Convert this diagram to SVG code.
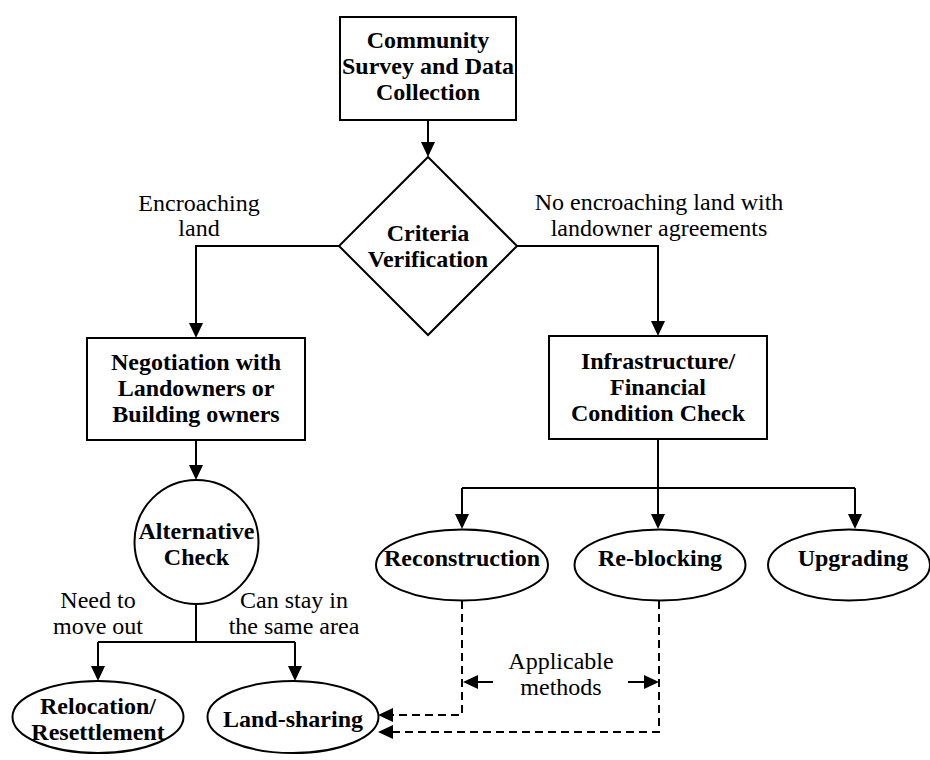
<svg xmlns="http://www.w3.org/2000/svg" width="930" height="760" viewBox="0 0 930 760">
  <style>
    .shape { fill: #ffffff; stroke: #000000; stroke-width: 2; }
    .node-text { font-family: "Liberation Serif", "Times New Roman", serif; font-size: 24px; font-weight: bold; fill: #000000; text-anchor: middle; }
    .label { font-family: "Liberation Serif", "Times New Roman", serif; font-size: 24px; fill: #000000; text-anchor: middle; }
    .link { fill: none; stroke: #000000; stroke-width: 2; }
    .dashed { stroke-dasharray: 8 5; }
  </style>
  <defs>
    <marker id="arrow" viewBox="0 0 15 16" refX="13" refY="8" markerWidth="15" markerHeight="16" markerUnits="userSpaceOnUse" orient="auto">
      <path d="M0,1 L15,8 L0,15 z" fill="#000000"/>
    </marker>
  </defs>

  <rect width="930" height="760" fill="#ffffff"/>

  <!-- connectors -->
  <g id="connectors">
    <path class="link" d="M428,120 V155" marker-end="url(#arrow)"/>
    <path class="link" d="M339,246 H196 V336" marker-end="url(#arrow)"/>
    <path class="link" d="M517,246 H658 V334" marker-end="url(#arrow)"/>
    <path class="link" d="M196,440 V478" marker-end="url(#arrow)"/>
    <path class="link" d="M196,604 V642"/>
    <path class="link" d="M98,642 H295"/>
    <path class="link" d="M98,642 V679" marker-end="url(#arrow)"/>
    <path class="link" d="M295,642 V679" marker-end="url(#arrow)"/>
    <path class="link" d="M658,439 V527" marker-end="url(#arrow)"/>
    <path class="link" d="M462,488 H855"/>
    <path class="link" d="M462,488 V527" marker-end="url(#arrow)"/>
    <path class="link" d="M855,488 V527" marker-end="url(#arrow)"/>
    <path class="link dashed" d="M462,601 V715 H380" marker-end="url(#arrow)"/>
    <path class="link dashed" d="M659,601 V732 H380" marker-end="url(#arrow)"/>
    <path class="link" d="M493,682 H465" marker-end="url(#arrow)"/>
    <path class="link" d="M628,682 H657" marker-end="url(#arrow)"/>
    <text class="label" x="199" y="211">Encroaching</text>
    <text class="label" x="199" y="236">land</text>
    <text class="label" x="659" y="210">No encroaching land with</text>
    <text class="label" x="659" y="236">landowner agreements</text>
    <text class="label" x="98" y="608">Need to</text>
    <text class="label" x="98" y="634">move out</text>
    <text class="label" x="294" y="608">Can stay in</text>
    <text class="label" x="294" y="634">the same area</text>
    <text class="label" x="561" y="669">Applicable</text>
    <text class="label" x="561" y="695">methods</text>
  </g>

  <!-- nodes -->
  <g id="survey">
    <rect class="shape" x="340" y="17" width="176" height="103"/>
    <text class="node-text" x="428" y="48">Community</text>
    <text class="node-text" x="428" y="74">Survey and Data</text>
    <text class="node-text" x="428" y="100">Collection</text>
  </g>

  <g id="criteria">
    <polygon class="shape" points="428,157 517,246 428,335 339,246"/>
    <text class="node-text" x="428" y="241">Criteria</text>
    <text class="node-text" x="428" y="267">Verification</text>
  </g>

  <g id="negotiation">
    <rect class="shape" x="87" y="338" width="218" height="102"/>
    <text class="node-text" x="196" y="370">Negotiation with</text>
    <text class="node-text" x="196" y="396">Landowners or</text>
    <text class="node-text" x="196" y="422">Building owners</text>
  </g>

  <g id="infrastructure">
    <rect class="shape" x="549" y="336" width="218" height="103"/>
    <text class="node-text" x="658" y="369">Infrastructure/</text>
    <text class="node-text" x="658" y="395">Financial</text>
    <text class="node-text" x="658" y="421">Condition Check</text>
  </g>

  <g id="alternative">
    <circle class="shape" cx="196.5" cy="542" r="62"/>
    <text class="node-text" x="196.5" y="539">Alternative</text>
    <text class="node-text" x="196.5" y="565">Check</text>
  </g>

  <g id="reconstruction">
    <ellipse class="shape" cx="462" cy="565" rx="86" ry="35.5"/>
    <text class="node-text" x="462" y="566">Reconstruction</text>
  </g>

  <g id="reblocking">
    <ellipse class="shape" cx="660" cy="565" rx="85.5" ry="35.5"/>
    <text class="node-text" x="660" y="566">Re-blocking</text>
  </g>

  <g id="upgrading">
    <ellipse class="shape" cx="849" cy="565" rx="81" ry="35.5"/>
    <text class="node-text" x="853" y="566">Upgrading</text>
  </g>

  <g id="relocation">
    <ellipse class="shape" cx="98" cy="717" rx="85.5" ry="36"/>
    <text class="node-text" x="98" y="714">Relocation/</text>
    <text class="node-text" x="98" y="740">Resettlement</text>
  </g>

  <g id="landsharing">
    <ellipse class="shape" cx="293" cy="717" rx="85.5" ry="36"/>
    <text class="node-text" x="293" y="727">Land-sharing</text>
  </g>
</svg>
